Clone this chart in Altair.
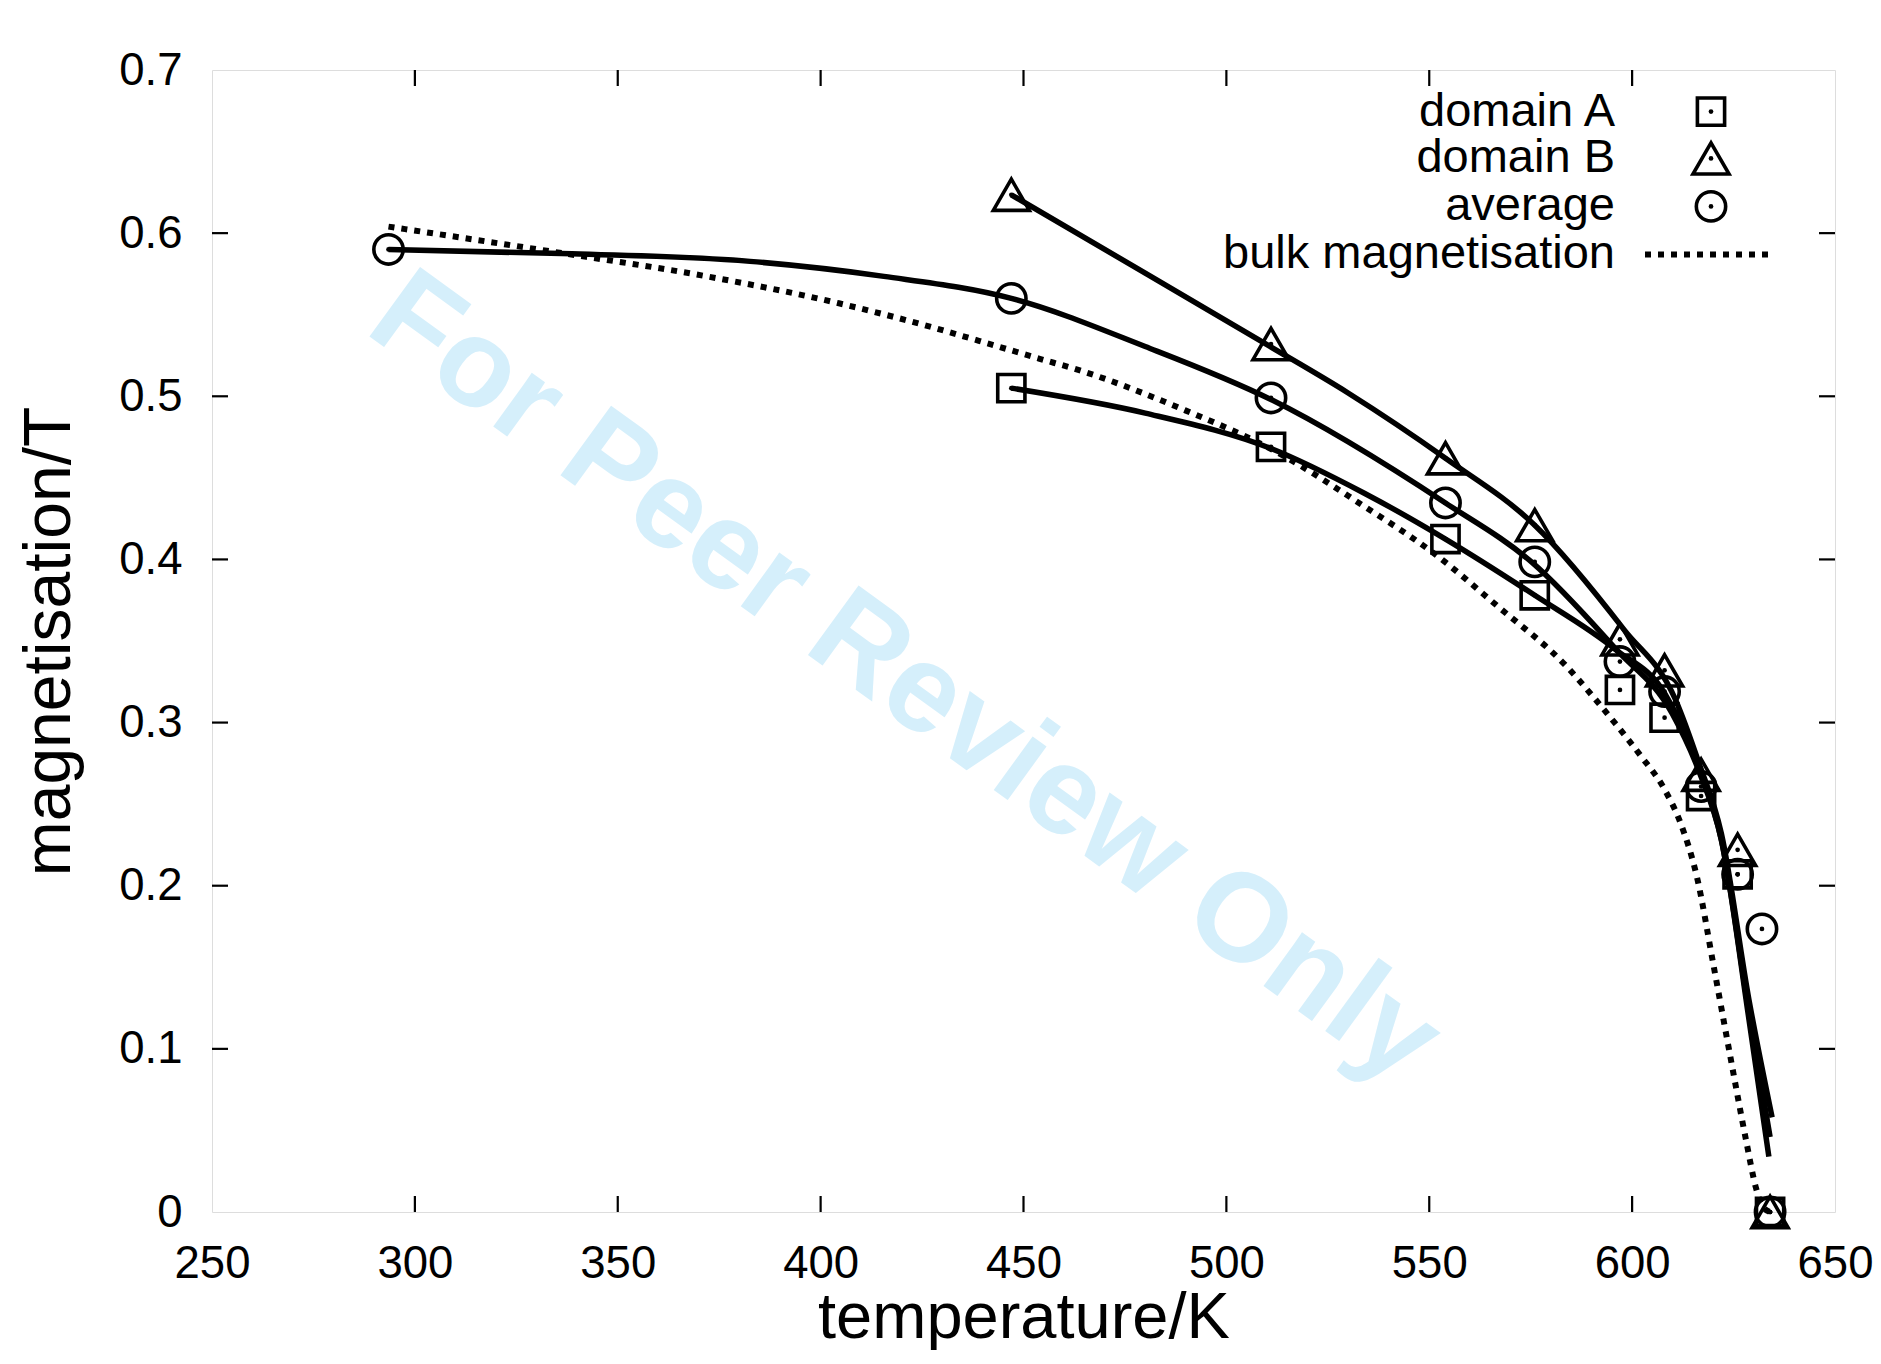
import altair as alt
import pandas as pd

# ---------------- data ----------------
# measured points (temperature in K, magnetisation in T)
T_domains = [447, 511, 554, 576, 597, 608, 617, 626, 634]
M_domainA = [0.505, 0.469, 0.4125, 0.378, 0.320, 0.303, 0.255, 0.207, 0.0]
M_domainB = [0.6235, 0.532, 0.462, 0.421, 0.351, 0.332, 0.268, 0.222, 0.0]
T_average = [293.5, 447, 511, 554, 576, 597, 608, 617, 626, 632, 634]
M_average = [0.590, 0.560, 0.499, 0.4346, 0.3985, 0.3374, 0.319, 0.2608, 0.207, 0.1735, 0.0]

# fitted curves (solid lines)
fitA_T = [447, 480, 511, 534, 554, 576, 596, 608, 616.5, 622, 628.8, 633.7]
fitA_M = [0.505, 0.4897, 0.468, 0.4406, 0.4125, 0.378, 0.3446, 0.318, 0.272, 0.228, 0.118, 0.034]
fitB_T = [447, 480, 510, 530, 554, 576, 598, 610.7, 616.5, 622, 628.8, 634.5]
fitB_M = [0.6235, 0.5755, 0.5316, 0.502, 0.462, 0.421, 0.357, 0.314, 0.275, 0.232, 0.13, 0.058]
fitAvg_T = [293.5, 338.7, 382.6, 415.6, 447, 480, 511, 554, 575.4, 596, 610, 616.5, 622, 628.8, 634]
fitAvg_M = [0.590, 0.5873, 0.5827, 0.5735, 0.560, 0.5305, 0.498, 0.4346, 0.398, 0.345, 0.305, 0.27, 0.228, 0.122, 0.046]

# bulk magnetisation (dotted line)
bulk_T = [293.5, 333, 372, 404.5, 426.5, 439, 454, 463.7, 488.3, 513, 534, 551, 567, 584,
          590, 596, 602, 608, 612, 616, 620, 624, 628, 630.5, 632, 634]
bulk_M = [0.604, 0.589, 0.5735, 0.557, 0.543, 0.534, 0.523, 0.516, 0.493, 0.465, 0.4325, 0.404,
          0.371, 0.334, 0.317, 0.299, 0.280, 0.259, 0.238, 0.205, 0.152, 0.098, 0.045, 0.015,
          0.004, 0.0]

x_tick_labels = [250, 300, 350, 400, 450, 500, 550, 600, 650]
y_tick_labels = [0, 0.1, 0.2, 0.3, 0.4, 0.5, 0.6, 0.7]
x_inner_ticks = [300, 350, 400, 450, 500, 550, 600]
y_inner_ticks = [0.1, 0.2, 0.3, 0.4, 0.5, 0.6]

legend_labels = ["domain A", "domain B", "average", "bulk magnetisation"]
watermark_text = ["For Peer Review Only"]
watermark_T = [420.8]
watermark_M = [0.327]

# ---------------- chart ----------------
W, H = 1623, 1142
FONT = "Liberation Sans"

xs = alt.Scale(domain=[250, 650], nice=False, zero=False)
ys = alt.Scale(domain=[0, 0.7], nice=False, zero=False)

x_axis = alt.Axis(values=x_tick_labels, format="d", labelFontSize=45.5, labelFont=FONT,
                  labelColor="black", ticks=False, tickSize=0, domain=False, grid=False,
                  labelPadding=29, labelFlush=False, labelOverlap=False,
                  title="temperature/K", titleFontSize=65, titleFont=FONT,
                  titleFontWeight="normal", titleColor="black",
                  titleBaseline="alphabetic", titleY=125)
y_axis = alt.Axis(values=y_tick_labels, format=".1~f", labelFontSize=45.5, labelFont=FONT,
                  labelColor="black", ticks=False, tickSize=0, domain=False, grid=False,
                  labelPadding=30, labelFlush=False, labelOverlap=False,
                  title="magnetisation/T", titleFontSize=66, titleFont=FONT,
                  titleFontWeight="normal", titleColor="black",
                  titleBaseline="alphabetic", titleX=-143, titleY=H / 2, titleAngle=270)

def xe():
    return alt.X("T:Q", scale=xs, axis=x_axis)

def ye():
    return alt.Y("M:Q", scale=ys, axis=y_axis)

wm_df = pd.DataFrame({"T": watermark_T, "M": watermark_M, "label": watermark_text})
watermark = alt.Chart(wm_df).mark_text(
    angle=36, fontSize=125, fontWeight="bold", font=FONT, color="#d5effb",
    align="center", baseline="middle"
).encode(x=xe(), y=ye(), text="label:N")

bulk_df = pd.DataFrame({"T": bulk_T, "M": bulk_M})
bulk = alt.Chart(bulk_df).mark_line(
    color="black", strokeWidth=6, strokeDash=[6, 7], strokeCap="butt", interpolate="monotone"
).encode(x=xe(), y=ye())

fit_df = pd.concat([
    pd.DataFrame({"T": fitA_T, "M": fitA_M, "series": "A"}),
    pd.DataFrame({"T": fitB_T, "M": fitB_M, "series": "B"}),
    pd.DataFrame({"T": fitAvg_T, "M": fitAvg_M, "series": "avg"}),
])
fits = alt.Chart(fit_df).mark_line(
    color="black", strokeWidth=5.5, interpolate="monotone"
).encode(x=xe(), y=ye(), detail="series:N", order="T:Q")

dfA = pd.DataFrame({"T": T_domains, "M": M_domainA})
dfB = pd.DataFrame({"T": T_domains, "M": M_domainB})
dfAvg = pd.DataFrame({"T": T_average, "M": M_average})

SHAPES = [("square", 740), ("triangle-up", 1300), ("circle", 860)]
MSTROKE = 3.6

def markers(df, shape, size):
    return alt.Chart(df).mark_point(
        shape=shape, size=size, filled=False, stroke="black", strokeWidth=MSTROKE, opacity=1
    ).encode(x=xe(), y=ye())

mA = markers(dfA, *SHAPES[0])
mB = markers(dfB, *SHAPES[1])
mAvg = markers(dfAvg, *SHAPES[2])
dots = alt.Chart(pd.concat([dfA, dfB, dfAvg])).mark_circle(
    size=22, color="black", opacity=1
).encode(x=xe(), y=ye())

# inward ticks on all four sides
TL = 16
xt_df = pd.DataFrame({"T": x_inner_ticks})
yt_df = pd.DataFrame({"M": y_inner_ticks})
xt_bottom = alt.Chart(xt_df).mark_rule(color="black", strokeWidth=2.2).encode(
    x=xe(), y=alt.value(H), y2=alt.value(H - TL))
xt_top = alt.Chart(xt_df).mark_rule(color="black", strokeWidth=2.2).encode(
    x=xe(), y=alt.value(0), y2=alt.value(TL))
yt_left = alt.Chart(yt_df).mark_rule(color="black", strokeWidth=2.2).encode(
    y=ye(), x=alt.value(0), x2=alt.value(TL))
yt_right = alt.Chart(yt_df).mark_rule(color="black", strokeWidth=2.2).encode(
    y=ye(), x=alt.value(W - TL), x2=alt.value(W))

# legend (gnuplot style: right-aligned text, then symbol)
LEG_TEXT_X = 1403
LEG_SYM_X = 1499
LEG_Y = [41.6, 88.4, 136.4, 184.4]
legend_layers = []
for i, lab in enumerate(legend_labels):
    one = pd.DataFrame({"label": [lab]})
    legend_layers.append(
        alt.Chart(one).mark_text(align="right", baseline="middle", fontSize=47,
                                 font=FONT, color="black")
        .encode(x=alt.value(LEG_TEXT_X), y=alt.value(LEG_Y[i]), text="label:N"))
    if i < 3:
        shape, size = SHAPES[i]
        legend_layers.append(
            alt.Chart(one).mark_point(shape=shape, size=size, filled=False, stroke="black",
                                      strokeWidth=MSTROKE, opacity=1)
            .encode(x=alt.value(LEG_SYM_X), y=alt.value(LEG_Y[i])))
        legend_layers.append(
            alt.Chart(one).mark_circle(size=22, color="black", opacity=1)
            .encode(x=alt.value(LEG_SYM_X), y=alt.value(LEG_Y[i])))
    else:
        legend_layers.append(
            alt.Chart(one).mark_rule(color="black", strokeWidth=6, strokeDash=[6, 7],
                                     strokeCap="butt")
            .encode(x=alt.value(LEG_SYM_X - 66), x2=alt.value(LEG_SYM_X + 60),
                    y=alt.value(LEG_Y[i])))

chart = alt.layer(
    watermark, bulk, fits, mA, mB, mAvg, dots,
    xt_bottom, xt_top, yt_left, yt_right, *legend_layers
).properties(
    width=W, height=H,
    padding={"left": 204, "top": 62, "right": 38, "bottom": 138},
    autosize=alt.AutoSizeParams(type="none"),
    background="white",
).configure_view(
    stroke="black", strokeWidth=3.5
).configure(font=FONT)

chart.save("out.html", embed_options={"renderer": "svg", "actions": False})
